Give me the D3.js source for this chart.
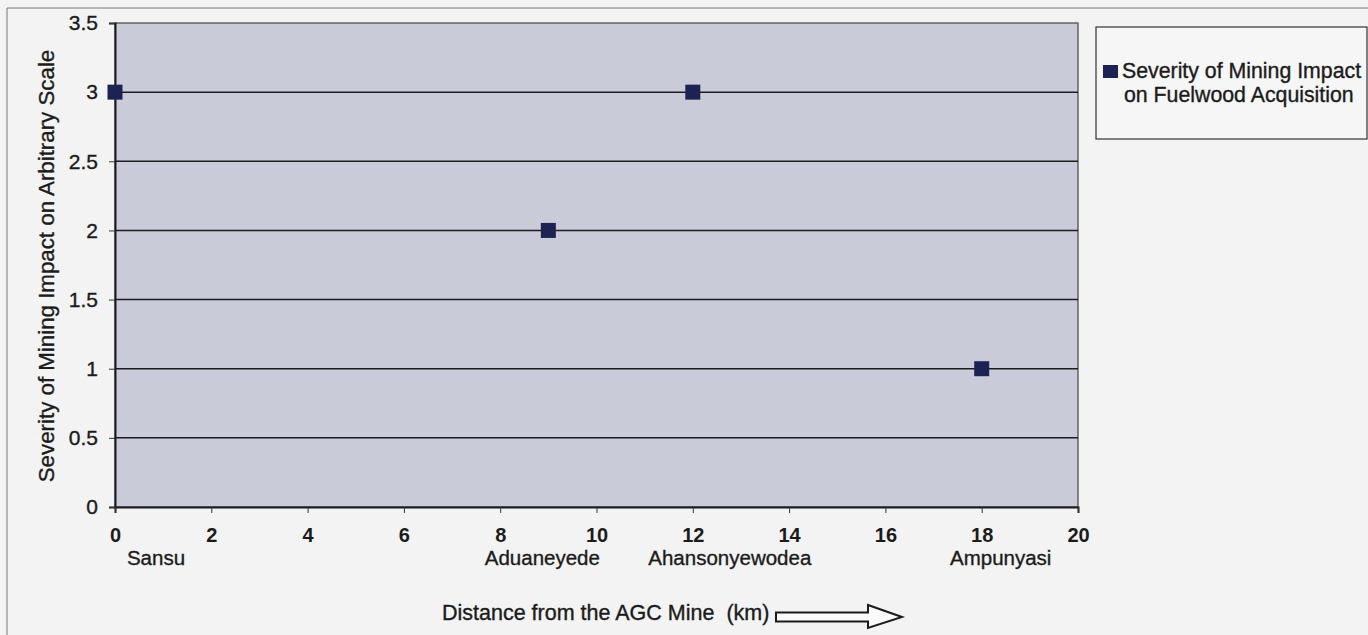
<!DOCTYPE html>
<html>
<head>
<meta charset="utf-8">
<script src="https://cdn.jsdelivr.net/npm/d3@7"></script>
<style>
  html, body { margin: 0; padding: 0; background: #f3f3f3; }
  svg { display: block; font-family: "Liberation Sans", Arial, sans-serif; }
  .heavy { stroke: #1b1b1b; stroke-width: 0.35px; }
</style>
</head>
<body>
<svg id="chart" width="1368" height="635"></svg>
<script>
// ---- data ----
const sites = ["Sansu", "Aduaneyede", "Ahansonyewodea", "Ampunyasi"];
const distanceKm = [0, 9, 12, 18];
const severity = [3, 2, 3, 1];
const xTicks = [0, 2, 4, 6, 8, 10, 12, 14, 16, 18, 20];
const yTicks = [0, 0.5, 1, 1.5, 2, 2.5, 3, 3.5];
const seriesName = ["Severity of Mining Impact", "on Fuelwood Acquisition"];
const xTitle = "Distance from the AGC Mine\u00a0 (km)";
const yTitle = "Severity of Mining Impact on Arbitrary Scale";

// ---- layout ----
const svg = d3.select("#chart");
const plot = { left: 115, right: 1078, top: 23, bottom: 507 };
const x = d3.scaleLinear().domain([0, 20]).range([plot.left, plot.right]);
const y = d3.scaleLinear().domain([0, 3.5]).range([plot.bottom, plot.top]);
const ink = "#1b1b1b";
const markerColor = "#1c2353";

// outer frame (scan edges)
svg.append("line").attr("x1", 7).attr("x2", 1368).attr("y1", 8).attr("y2", 8)
  .attr("stroke", "#777").attr("stroke-width", 1);
svg.append("line").attr("x1", 7).attr("x2", 7).attr("y1", 8).attr("y2", 635)
  .attr("stroke", "#777").attr("stroke-width", 1);

// plot background
svg.append("rect")
  .attr("x", plot.left).attr("y", plot.top)
  .attr("width", plot.right - plot.left).attr("height", plot.bottom - plot.top)
  .attr("fill", "#cacbd8").attr("stroke", "#444").attr("stroke-width", 1.2);

// gridlines
svg.append("g").selectAll("line").data(yTicks.filter(d => d > 0 && d < 3.5)).join("line")
  .attr("x1", plot.left).attr("x2", plot.right)
  .attr("y1", d => y(d)).attr("y2", d => y(d))
  .attr("stroke", ink).attr("stroke-width", 1.5);

// y axis
const yAxis = svg.append("g").attr("transform", `translate(${plot.left},0)`)
  .call(d3.axisLeft(y).tickValues(yTicks).tickSize(6).tickPadding(11).tickFormat(d3.format("")));
yAxis.select(".domain").attr("stroke", ink).attr("stroke-width", 2);
yAxis.selectAll(".tick line").attr("stroke", "#333");
yAxis.selectAll("text").attr("font-size", 21).attr("fill", ink).attr("class", "heavy")
  .attr("font-family", "'Liberation Sans', Arial, sans-serif");

// x axis
const xAxis = svg.append("g").attr("transform", `translate(0,${plot.bottom})`)
  .call(d3.axisBottom(x).tickValues(xTicks).tickSize(6).tickPadding(15).tickFormat(d3.format("")));
xAxis.select(".domain").attr("stroke", ink).attr("stroke-width", 2);
xAxis.selectAll(".tick line").attr("stroke", "#333");
xAxis.selectAll("text").attr("font-size", 20).attr("font-weight", "bold").attr("fill", ink)
  .attr("font-family", "'Liberation Sans', Arial, sans-serif");

// site names under axis
const nameShift = [41, -6, 37, 19];
svg.append("g").selectAll("text").data(sites).join("text")
  .attr("x", (d, i) => x(distanceKm[i]) + nameShift[i])
  .attr("y", 565)
  .attr("text-anchor", "middle")
  .attr("font-size", 20.5).attr("fill", ink).attr("class", "heavy")
  .text(d => d);

// markers
const ms = 15;
svg.append("g").selectAll("rect").data(distanceKm).join("rect")
  .attr("x", d => x(d) - ms / 2)
  .attr("y", (d, i) => y(severity[i]) - ms / 2)
  .attr("width", ms).attr("height", ms)
  .attr("fill", markerColor);

// y title
svg.append("text")
  .attr("transform", `translate(54,${(plot.top + plot.bottom) / 2 + 1}) rotate(-90)`)
  .attr("text-anchor", "middle")
  .attr("font-size", 22.3).attr("fill", ink).attr("class", "heavy")
  .text(yTitle);

// x title
svg.append("text")
  .attr("x", 442).attr("y", 620)
  .attr("font-size", 21.5).attr("fill", ink).attr("class", "heavy")
  .text(xTitle);

// arrow
const ax0 = 776, ax1 = 902, ah = 868, ay = 617;
svg.append("path")
  .attr("d", `M${ax0},${ay - 4.5} L${ah},${ay - 4.5} L${ah},${ay - 12} L${ax1},${ay} L${ah},${ay + 11} L${ah},${ay + 4.5} L${ax0},${ay + 4.5} Z`)
  .attr("fill", "#fbfbfb").attr("stroke", ink).attr("stroke-width", 2);

// legend
const lg = svg.append("g");
lg.append("rect").attr("x", 1096).attr("y", 27).attr("width", 271).attr("height", 112)
  .attr("fill", "#f6f6f6").attr("stroke", "#333").attr("stroke-width", 1.2);
lg.append("rect").attr("x", 1103).attr("y", 65).attr("width", 15).attr("height", 13)
  .attr("fill", markerColor);
lg.selectAll("text.lt").data(seriesName).join("text")
  .attr("class", "lt heavy")
  .attr("x", (d, i) => i === 0 ? 1122 : 1124)
  .attr("y", (d, i) => 78 + i * 24)
  .attr("font-size", 21.3).attr("fill", ink)
  .text(d => d);
</script>
</body>
</html>
